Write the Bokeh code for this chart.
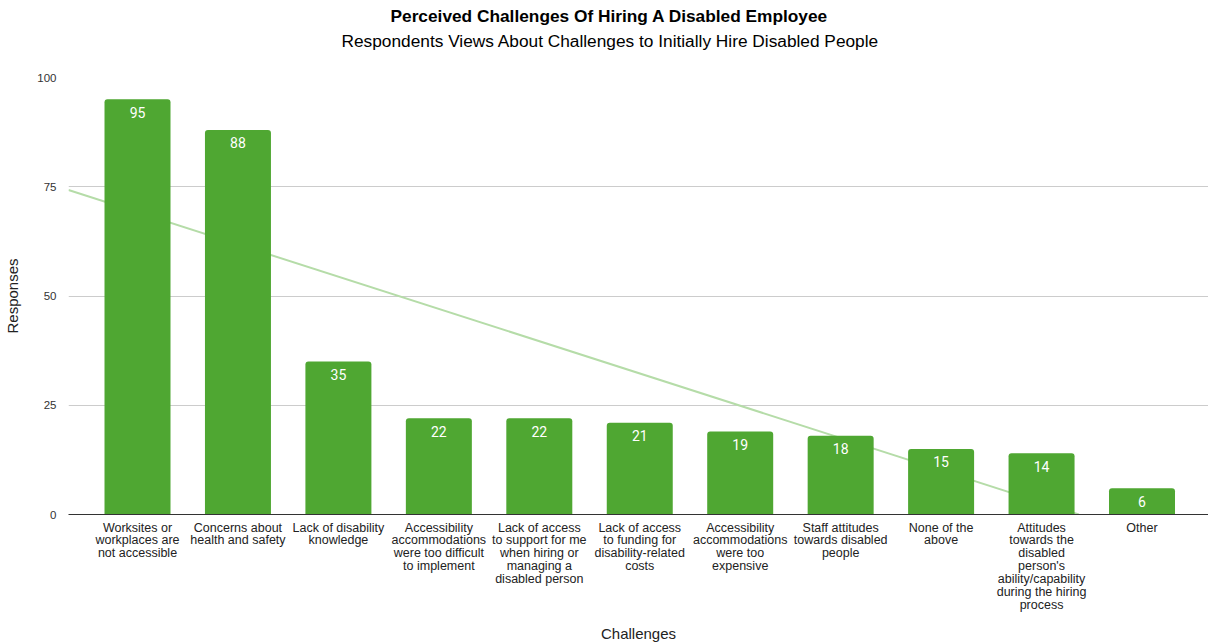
import numpy as np
from bokeh.plotting import figure
from bokeh.models import FixedTicker, Range1d, Title, ColumnDataSource
from bokeh.core.properties import value
from bokeh.embed import file_html
from bokeh.resources import INLINE

categories = [
    "Worksites or\nworkplaces are\nnot accessible",
    "Concerns about\nhealth and safety",
    "Lack of disability\nknowledge",
    "Accessibility\naccommodations\nwere too difficult\nto implement",
    "Lack of access\nto support for me\nwhen hiring or\nmanaging a\ndisabled person",
    "Lack of access\nto funding for\ndisability-related\ncosts",
    "Accessibility\naccommodations\nwere too\nexpensive",
    "Staff attitudes\ntowards disabled\npeople",
    "None of the\nabove",
    "Attitudes\ntowards the\ndisabled\nperson's\nability/capability\nduring the hiring\nprocess",
    "Other",
]
responses = [95, 88, 35, 22, 22, 21, 19, 18, 15, 14, 6]
y_ticks = [0, 25, 50, 75, 100]

title_text = "Perceived Challenges Of Hiring A Disabled Employee"
subtitle_text = "Respondents Views About Challenges to Initially Hire Disabled People"

FONT = "Liberation Sans"
BAR = "#4fa732"
TREND = "#b5dca8"

idx = list(range(len(categories)))
x_start, x_end = -0.687, 10.662

p = figure(width=1208, height=644, output_backend="svg", toolbar_location=None,
           x_range=Range1d(x_start, x_end), y_range=Range1d(0, 100),
           min_border_left=68, min_border_right=0, min_border_top=77, min_border_bottom=129)
p.outline_line_color = None
p.background_fill_color = "white"
p.border_fill_color = "white"

spacer = Title(text=" ", align="left", text_font=FONT, text_font_size="16px", standoff=8)
p.add_layout(spacer, "above")
sub = Title(text=subtitle_text, align="left", offset=273, text_font=FONT,
            text_font_size="17.3px", text_font_style="normal", text_color="#000000", standoff=0)
p.add_layout(sub, "above")
ttl = Title(text=title_text, align="left", offset=322, text_font=FONT,
            text_font_size="17.3px", text_font_style="bold", text_color="#000000", standoff=5)
p.add_layout(ttl, "above")

src = ColumnDataSource(dict(x=idx, top=responses, lab=[str(v) for v in responses]))

# linear trendline computed from the data (as the spreadsheet does), drawn behind bars
slope, intercept = np.polyfit(idx, responses, 1)
x_zero = -intercept / slope
tx = [x_start, x_zero]
ty = [intercept + slope * x_start, 0]
p.line(tx, ty, line_color=TREND, line_width=2)

p.vbar(x="x", top="top", width=0.657, source=src, fill_color=BAR, line_color=None,
       border_radius=(3, 3, 0, 0))

p.text(x="x", y="top", text="lab", source=src, text_color="white",
       text_font=value("Roboto"), text_font_size="14px", text_align="center",
       text_baseline="middle", y_offset=13)

# axes
p.xaxis.ticker = FixedTicker(ticks=idx)
p.xaxis.major_label_overrides = {i: c for i, c in zip(idx, categories)}
p.xaxis.major_tick_line_color = None
p.xaxis.minor_tick_line_color = None
p.xaxis.axis_line_color = "#333333"
p.xaxis.major_label_text_font = FONT
p.xaxis.major_label_text_font_size = "12.5px"
p.xaxis.major_label_text_color = "#222222"
p.xaxis.major_label_text_line_height = 0.92
p.xaxis.major_label_standoff = 0
p.xaxis.axis_label = "Challenges"
p.xaxis.axis_label_text_font = FONT
p.xaxis.axis_label_text_font_size = "15px"
p.xaxis.axis_label_text_font_style = "normal"
p.xaxis.axis_label_text_color = "#222222"
p.xaxis.axis_label_standoff = 10

p.yaxis.ticker = FixedTicker(ticks=y_ticks)
p.yaxis.axis_line_color = None
p.yaxis.major_tick_line_color = None
p.yaxis.minor_tick_line_color = None
p.yaxis.major_label_text_font = FONT
p.yaxis.major_label_text_font_size = "11.5px"
p.yaxis.major_label_text_color = "#333333"
p.yaxis.major_label_standoff = 6
p.yaxis.axis_label = "Responses"
p.yaxis.axis_label_text_font = FONT
p.yaxis.axis_label_text_font_size = "15px"
p.yaxis.axis_label_text_font_style = "normal"
p.yaxis.axis_label_text_color = "#222222"
p.yaxis.axis_label_standoff = 13

p.xgrid.grid_line_color = None
p.ygrid.grid_line_color = "#cccccc"
p.ygrid.grid_line_width = 1

open("out.html", "w").write(file_html(p, INLINE))
